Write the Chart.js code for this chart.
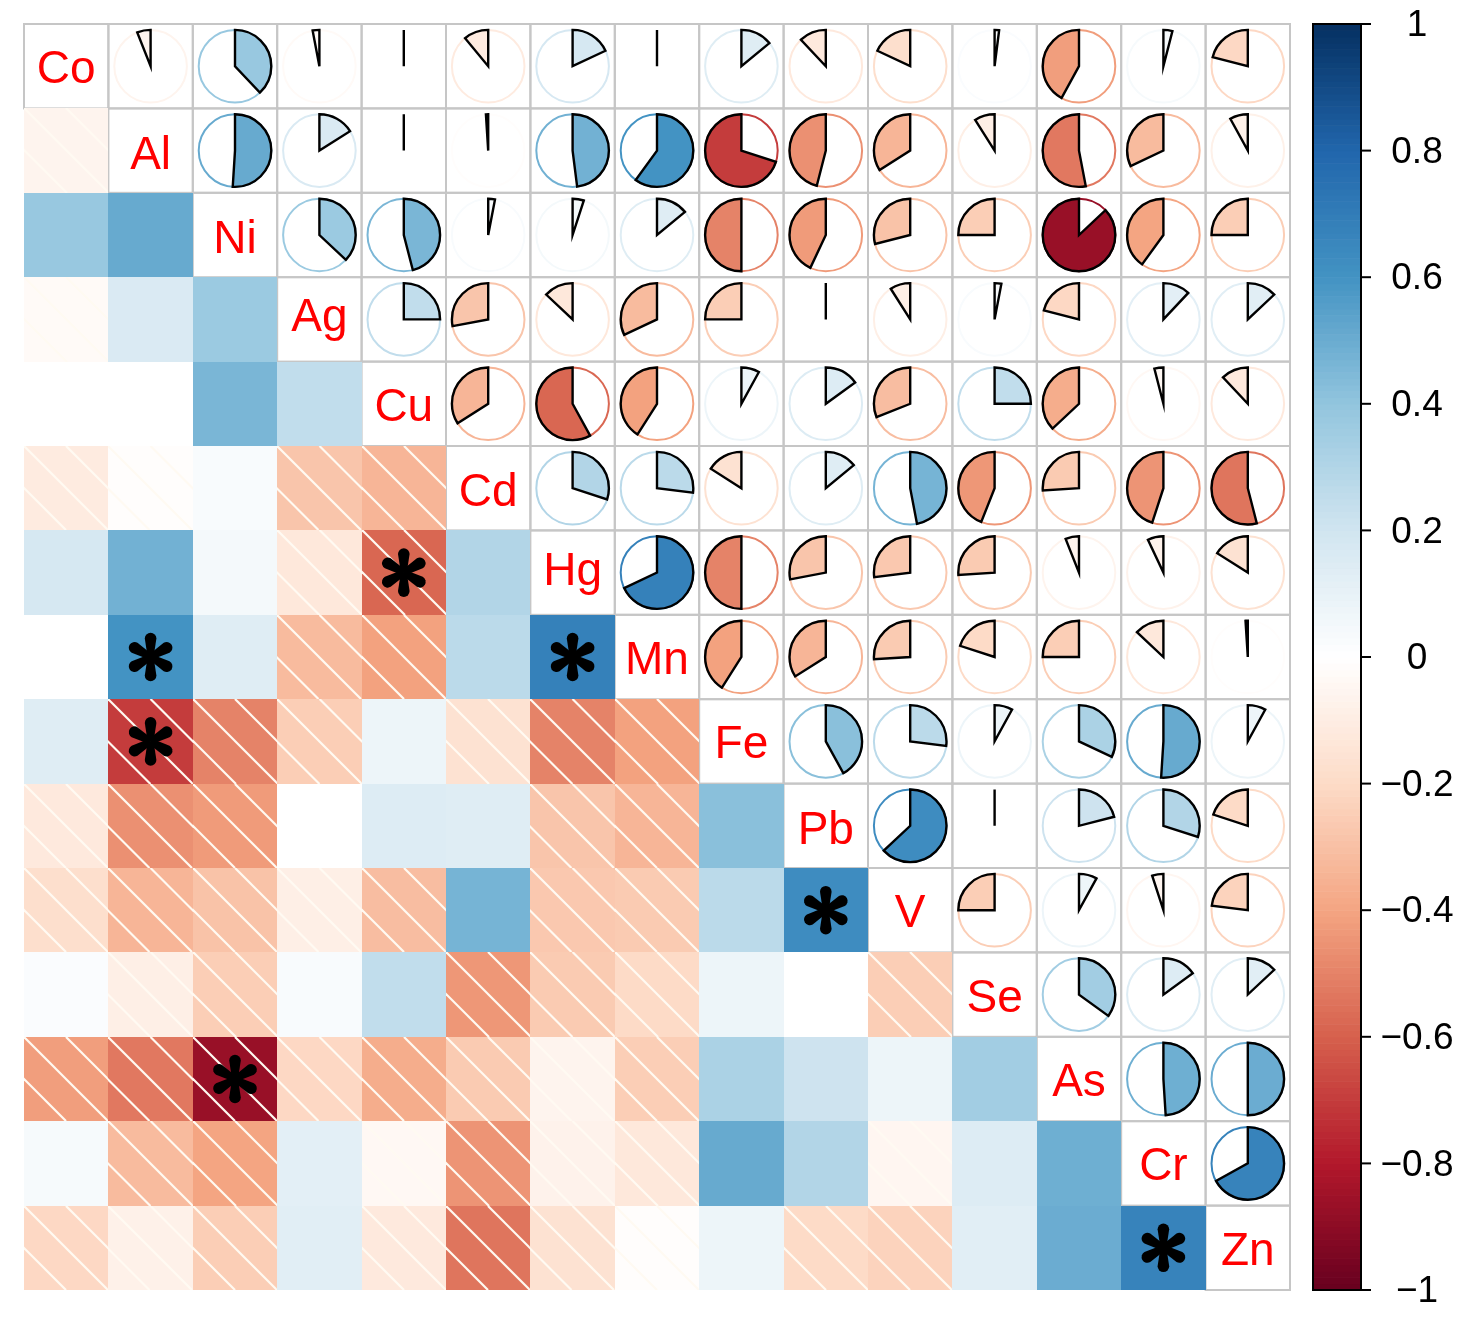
<!DOCTYPE html>
<html>
<head>
<meta charset="utf-8">
<title>Element correlation matrix</title>
<script src="https://cdn.jsdelivr.net/npm/chart.js@4.4.1/dist/chart.umd.min.js"></script>
<style>
  html, body { margin: 0; padding: 0; background: #ffffff; }
  #wrap { width: 1483px; height: 1332px; }
</style>
</head>
<body>
<div id="wrap"><canvas id="corrChart" width="1483" height="1332"></canvas></div>
<script>
// ==========================
// Data
// ==========================

const elements = ["Co", "Al", "Ni", "Ag", "Cu", "Cd", "Hg", "Mn", "Fe", "Pb", "V", "Se", "As", "Cr", "Zn"];

// upper triangle, one row per element (values against the elements after it)
const coRow = [-0.06, 0.38, -0.03, 0.0, -0.11, 0.18, 0.0, 0.14, -0.12, -0.18, 0.02, -0.42, 0.04, -0.21];
const alRow = [0.51, 0.16, 0.0, -0.01, 0.48, 0.6, -0.7, -0.46, -0.34, -0.09, -0.53, -0.32, -0.08];
const niRow = [0.37, 0.46, 0.03, 0.05, 0.14, -0.5, -0.43, -0.29, -0.25, -0.87, -0.4, -0.25];
const agRow = [0.25, -0.28, -0.13, -0.32, -0.25, 0.0, -0.09, 0.03, -0.21, 0.12, 0.13];
const cuRow = [-0.34, -0.58, -0.41, 0.08, 0.15, -0.31, 0.25, -0.37, -0.04, -0.12];
const cdRow = [0.3, 0.27, -0.16, 0.14, 0.47, -0.44, -0.26, -0.45, -0.54];
const hgRow = [0.68, -0.5, -0.28, -0.27, -0.26, -0.06, -0.07, -0.16];
const mnRow = [-0.41, -0.34, -0.26, -0.2, -0.25, -0.13, -0.01];
const feRow = [0.42, 0.27, 0.08, 0.32, 0.51, 0.08];
const pbRow = [0.63, 0.0, 0.21, 0.3, -0.2];
const vRow = [-0.25, 0.08, -0.05, -0.23];
const seRow = [0.35, 0.15, 0.13];
const asRow = [0.49, 0.5];
const crRow = [0.67];

const upperRows = [coRow, alRow, niRow, agRow, cuRow, cdRow, hgRow, mnRow, feRow, pbRow, vRow, seRow, asRow, crRow];

// significant pairs (row, column) marked with *
const significant = [
  ["Hg", "Cu"],
  ["Mn", "Al"],
  ["Mn", "Hg"],
  ["Fe", "Al"],
  ["V", "Pb"],
  ["As", "Ni"],
  ["Zn", "Cr"],
];

const colorbarTicks = [1, 0.8, 0.6, 0.4, 0.2, 0, -0.2, -0.4, -0.6, -0.8, -1];

const rdBu = ["#67001F", "#B2182B", "#D6604D", "#F4A582", "#FDDBC7", "#FFFFFF",
              "#D1E5F0", "#92C5DE", "#4393C3", "#2166AC", "#053061"];

// ==========================
// Helpers
// ==========================

const n = elements.length;
const corr = [];
for (let i = 0; i < n; i++) corr.push(new Array(n).fill(1));
upperRows.forEach((row, i) => {
  row.forEach((v, k) => {
    const j = i + 1 + k;
    corr[i][j] = v;
    corr[j][i] = v;
  });
});

const cells = [];
for (let i = 0; i < n; i++) {
  for (let j = 0; j < n; j++) {
    cells.push({ x: j + 0.5, y: i + 0.5, i: i, j: j, r: corr[i][j] });
  }
}

function hexToRgb(h) {
  return [parseInt(h.slice(1, 3), 16), parseInt(h.slice(3, 5), 16), parseInt(h.slice(5, 7), 16)];
}

function corrColor(v) {
  const t = ((Math.max(-1, Math.min(1, v)) + 1) / 2) * (rdBu.length - 1);
  const i = Math.min(Math.floor(t), rdBu.length - 2);
  const f = t - i;
  const a = hexToRgb(rdBu[i]);
  const b = hexToRgb(rdBu[i + 1]);
  const c = a.map((x, k) => Math.round(x + (b[k] - x) * f));
  return `rgb(${c[0]},${c[1]},${c[2]})`;
}

function fmtTick(v) {
  if (v === 0) return "0";
  const s = String(Math.abs(v));
  return v < 0 ? "\u2212" + s : s;
}

function drawAsterisk(ctx, cx, cy) {
  const reach = 18.5;
  const w0 = 3;
  const w1 = 5.8;
  ctx.fillStyle = "#000000";
  for (let a = 0; a < 6; a++) {
    const th = (a * Math.PI) / 3;
    const dx = Math.sin(th);
    const dy = -Math.cos(th);
    const px = -dy;
    const py = dx;
    const tx = cx + dx * reach;
    const ty = cy + dy * reach;
    ctx.beginPath();
    ctx.moveTo(cx + px * w0, cy + py * w0);
    ctx.lineTo(tx + px * w1, ty + py * w1);
    ctx.arc(tx, ty, w1, Math.atan2(py, px), Math.atan2(-py, -px), true);
    ctx.lineTo(cx - px * w0, cy - py * w0);
    ctx.closePath();
    ctx.fill();
  }
}

// ==========================
// Drawing plugin
// ==========================

const corrPlot = {
  id: "corrPlot",
  afterDatasetsDraw(chart) {
    const ctx = chart.ctx;
    const xs = chart.scales.x;
    const ys = chart.scales.y;
    const cb = chart.scales.cb;
    const data = chart.data.datasets[0].data;

    ctx.save();

    // grid of the upper half and diagonal
    ctx.strokeStyle = "#c6c6c6";
    ctx.lineWidth = 2;
    data.forEach((c) => {
      if (c.j < c.i) return;
      const x0 = xs.getPixelForValue(c.x - 0.5);
      const x1 = xs.getPixelForValue(c.x + 0.5);
      const y0 = ys.getPixelForValue(c.y - 0.5);
      const y1 = ys.getPixelForValue(c.y + 0.5);
      ctx.strokeRect(x0, y0, x1 - x0, y1 - y0);
    });

    // lower half: shaded squares, negatives hatched
    data.forEach((c) => {
      if (c.j >= c.i) return;
      const x0 = Math.round(xs.getPixelForValue(c.x - 0.5));
      const x1 = Math.round(xs.getPixelForValue(c.x + 0.5));
      const y0 = Math.round(ys.getPixelForValue(c.y - 0.5));
      const y1 = Math.round(ys.getPixelForValue(c.y + 0.5));
      const w = x1 - x0;
      const h = y1 - y0;
      ctx.fillStyle = corrColor(c.r);
      ctx.fillRect(x0, y0, w, h);
      if (c.r < 0) {
        ctx.save();
        ctx.beginPath();
        ctx.rect(x0, y0, w, h);
        ctx.clip();
        ctx.strokeStyle = "#fffaf2";
        ctx.lineWidth = 2.2;
        for (let k = -1; k <= 1; k++) {
          ctx.beginPath();
          ctx.moveTo(x0 + (k * w) / 2, y0);
          ctx.lineTo(x0 + (k * w) / 2 + h, y0 + h);
          ctx.stroke();
        }
        ctx.restore();
      }
    });

    // upper half: pies
    data.forEach((c) => {
      if (c.j <= c.i) return;
      const cx = xs.getPixelForValue(c.x);
      const cy = ys.getPixelForValue(c.y);
      const rad = 0.43 * (xs.getPixelForValue(1) - xs.getPixelForValue(0));
      const col = corrColor(c.r);

      ctx.beginPath();
      ctx.arc(cx, cy, rad, 0, Math.PI * 2);
      ctx.strokeStyle = col;
      ctx.lineWidth = 2;
      ctx.stroke();

      const start = -Math.PI / 2;
      const sweep = Math.PI * 2 * Math.abs(c.r);
      ctx.beginPath();
      ctx.moveTo(cx, cy);
      if (c.r >= 0) {
        ctx.arc(cx, cy, rad, start, start + sweep, false);
      } else {
        ctx.arc(cx, cy, rad, start, start - sweep, true);
      }
      ctx.closePath();
      ctx.fillStyle = col;
      ctx.fill();
      ctx.strokeStyle = "#000000";
      ctx.lineWidth = 2.4;
      ctx.stroke();
    });

    // diagonal labels
    ctx.font = "46px 'Liberation Sans', Arial, sans-serif";
    ctx.fillStyle = "#ff0000";
    ctx.textAlign = "center";
    ctx.textBaseline = "alphabetic";
    data.forEach((c) => {
      if (c.i !== c.j) return;
      const label = elements[c.i];
      const m = ctx.measureText(label);
      const cx = xs.getPixelForValue(c.x);
      const cy = ys.getPixelForValue(c.y);
      const base = cy + (m.actualBoundingBoxAscent - m.actualBoundingBoxDescent) / 2 + 1;
      ctx.fillText(label, cx, base);
    });

    // significance stars
    significant.forEach(([rowName, colName]) => {
      const i = elements.indexOf(rowName);
      const j = elements.indexOf(colName);
      drawAsterisk(ctx, xs.getPixelForValue(j + 0.5), ys.getPixelForValue(i + 0.5));
    });

    // colour bar
    const barLeft = chart.chartArea.right + 23;
    const barWidth = 48;
    const steps = 200;
    for (let k = 0; k < steps; k++) {
      const v0 = -1 + (2 * k) / steps;
      const v1 = -1 + (2 * (k + 1)) / steps;
      const yTop = cb.getPixelForValue(v1);
      const yBot = cb.getPixelForValue(v0);
      ctx.fillStyle = corrColor((v0 + v1) / 2);
      ctx.fillRect(barLeft, yTop, barWidth, yBot - yTop + 0.6);
    }
    const barTop = cb.getPixelForValue(1);
    const barBottom = cb.getPixelForValue(-1);
    ctx.strokeStyle = "#000000";
    ctx.lineWidth = 2;
    ctx.strokeRect(barLeft, barTop, barWidth, barBottom - barTop);

    ctx.font = "37px 'Liberation Sans', Arial, sans-serif";
    ctx.fillStyle = "#000000";
    ctx.textAlign = "center";
    ctx.textBaseline = "middle";
    colorbarTicks.forEach((t) => {
      const y = cb.getPixelForValue(t);
      ctx.beginPath();
      ctx.moveTo(barLeft + barWidth, y);
      ctx.lineTo(barLeft + barWidth + 10, y);
      ctx.stroke();
      ctx.fillText(fmtTick(t), barLeft + barWidth + 56, y + 2);
    });

    ctx.restore();
  },
};

// ==========================
// Chart
// ==========================

const chartCanvas = document.getElementById("corrChart");

new Chart(chartCanvas, {
  type: "scatter",

  data: {
    datasets: [
      {
        label: "correlation",
        data: cells,
        pointRadius: 0,
        showLine: false,
      },
    ],
  },

  options: {
    responsive: false,
    animation: false,
    events: [],

    layout: {
      padding: { left: 24, top: 24, right: 193, bottom: 42 },
    },

    plugins: {
      legend: { display: false },
      tooltip: { enabled: false },
    },

    scales: {
      x: { type: "linear", min: 0, max: 15, display: false },
      y: { type: "linear", min: 0, max: 15, reverse: true, display: false },
      cb: { type: "linear", axis: "y", position: "right", min: -1, max: 1, display: false },
    },
  },

  plugins: [corrPlot],
});
</script>
</body>
</html>
